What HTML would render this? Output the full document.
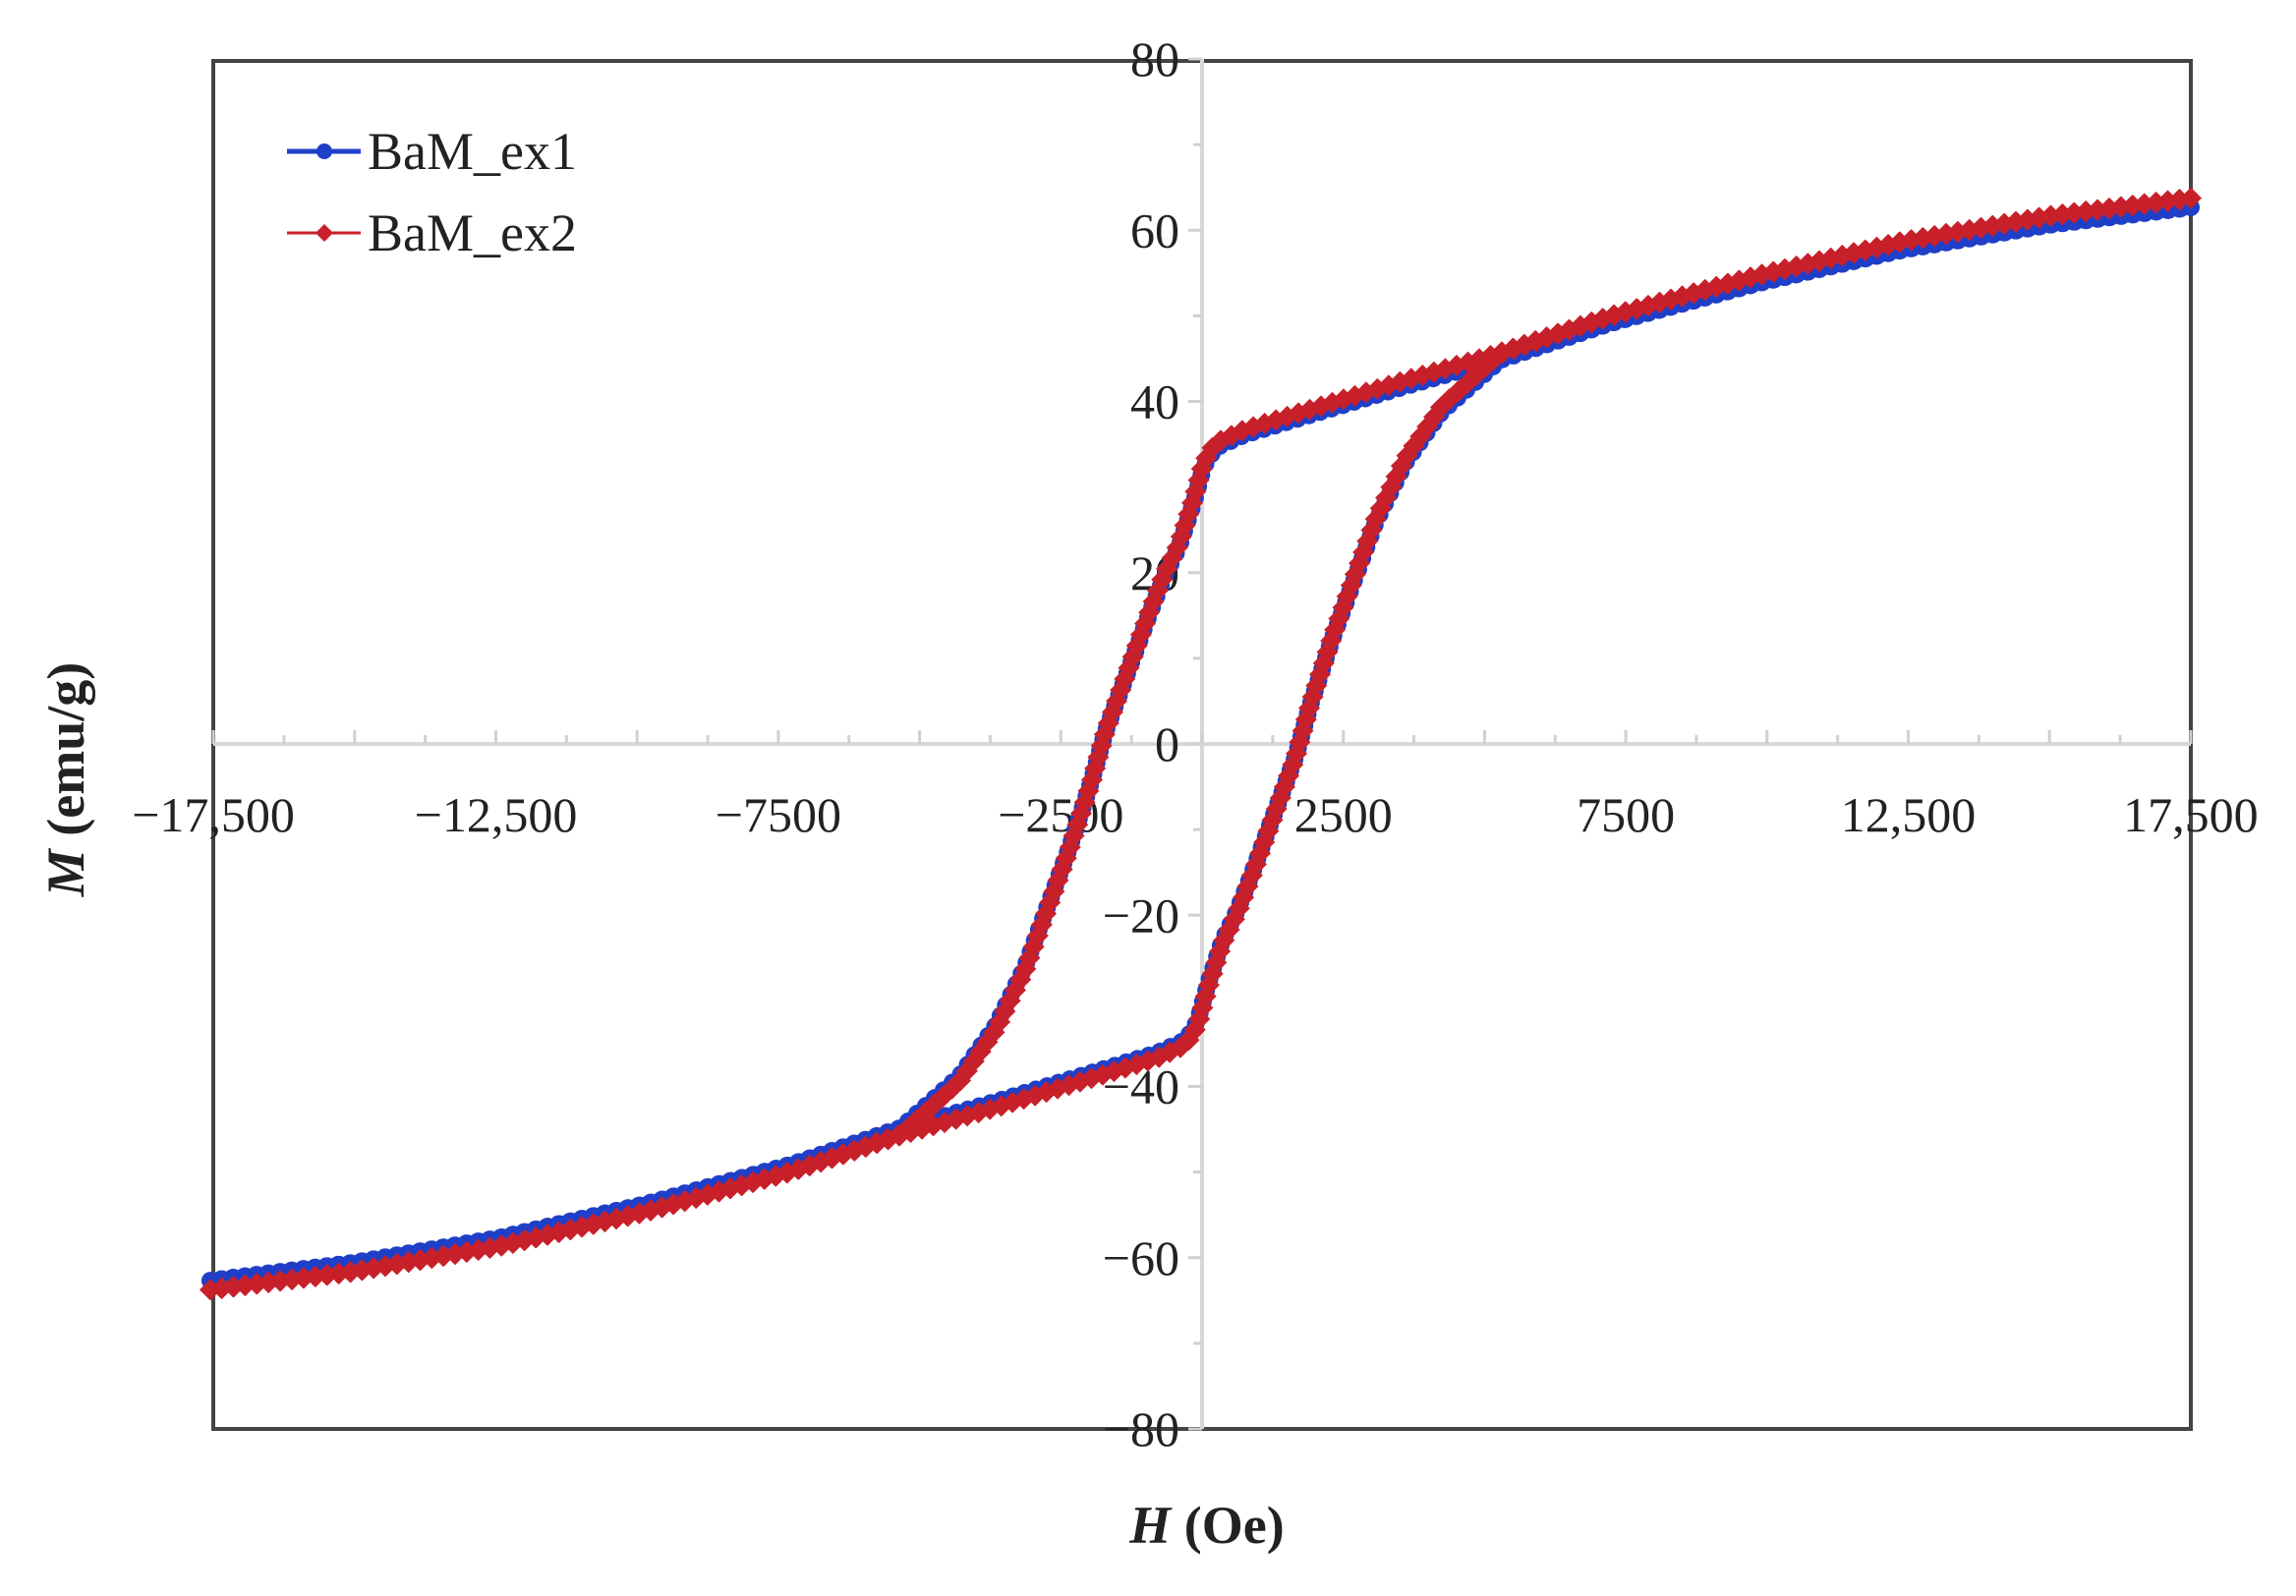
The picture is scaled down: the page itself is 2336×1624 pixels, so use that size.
<!DOCTYPE html>
<html><head><meta charset="utf-8"><style>
html,body{margin:0;padding:0;background:#fff;}
svg{display:block;}
text{font-family:"Liberation Serif",serif;fill:#222;}
</style></head><body>
<svg id="s" width="2336" height="1624" viewBox="0 0 2336 1624" xmlns="http://www.w3.org/2000/svg">
<rect x="217" y="62" width="2012" height="1392" fill="none" stroke="#444" stroke-width="4"/>
<g id="axes"></g>
<g id="data"></g>
<line x1="292" y1="154" x2="367" y2="154" stroke="#1f3fc8" stroke-width="5"/>
<circle cx="330" cy="154" r="8" fill="#1f3fc8"/>
<text x="374" y="172" font-size="54">BaM_ex1</text>
<line x1="292" y1="237" x2="367" y2="237" stroke="#c8202a" stroke-width="3"/>
<polygon points="330,228 339,237 330,246 321,237" fill="#c8202a"/>
<text x="374" y="255" font-size="54">BaM_ex2</text>
<text x="1228" y="1570" font-size="54" font-weight="bold" text-anchor="middle"><tspan font-style="italic">H</tspan> (Oe)</text>
<text transform="translate(85,793) rotate(-90)" font-size="54" font-weight="bold" text-anchor="middle"><tspan font-style="italic">M</tspan> (emu/g)</text>
</svg>
<script>
var NS="http://www.w3.org/2000/svg";
function el(t,a,p){var e=document.createElementNS(NS,t);for(var k in a)e.setAttribute(k,a[k]);(p||document.getElementById('axes')).appendChild(e);return e;}
var X0=1223,Y0=757,px=143.7/2500,py=174.25/20;
el('line',{x1:217,y1:Y0,x2:2229,y2:Y0,stroke:'#d8d8d8','stroke-width':4});
el('line',{x1:X0,y1:60,x2:X0,y2:1454,stroke:'#d8d8d8','stroke-width':4});
for(var h=-17500;h<=17500;h+=1250){var x=X0+h*px;el('line',{x1:x,y1:Y0-(h%2500==0?14:9),x2:x,y2:Y0,stroke:'#d0d0d0','stroke-width':3});}
for(var m=-80;m<=80;m+=10){var y=Y0-m*py;el('line',{x1:X0-(m%20==0?14:9),y1:y,x2:X0,y2:y,stroke:'#d0d0d0','stroke-width':3});}
var xl=[[-17500,"−17,500"],[-12500,"−12,500"],[-7500,"−7500"],[-2500,"−2500"],[2500,"2500"],[7500,"7500"],[12500,"12,500"],[17500,"17,500"]];
xl.forEach(function(l){var t=el('text',{x:X0+l[0]*px,y:846,'font-size':50,'text-anchor':'middle'});t.textContent=l[1];});
for(var m=-80;m<=80;m+=20){var t=el('text',{x:1200,y:Y0-m*py+17,'font-size':50,'text-anchor':'end'});t.textContent=(m<0?"−":"")+Math.abs(m);}
var U=[[1497,143],[1400,155],[1300,172],[1200,195],[1100,222],[1020,248],[960,265],[900,283],[850,298],[830,307],[822,320],[815,345],[805,375],[795,395],[785,420],[770,460],[755,500],[745,535],[730,580],[715,620],[700,660],[680,700],[655,735],[615,770]];
var tail=[[1100,222],[1200,195],[1300,172],[1400,155],[1497,143]].map(function(p){return[1640-p[0],1017-p[1]];});
var up=U.concat(tail);
function toA(p){return[217+(p[0]-145)*1.4882,60+(p[1]-42)*1.494];}
up=up.map(toA);
var cx=2*1221.5,cy=2*757;
var low=up.map(function(p){return[cx-p[0],cy-p[1]];});
function resample(pts,step){var out=[pts[0]],acc=0;for(var i=1;i<pts.length;i++){var a=pts[i-1],b=pts[i],dx=b[0]-a[0],dy=b[1]-a[1],L=Math.hypot(dx,dy),d=step-acc;while(d<=L){out.push([a[0]+dx*d/L,a[1]+dy*d/L]);d+=step;}acc=L-(d-step);}return out;}
var dg=document.getElementById('data');
function series(pts,col,sw,marker,f){
  var q=pts.map(function(p){return[p[0],Y0+(p[1]-Y0)*f];});
  el('polyline',{points:q.map(function(p){return p.join(',')}).join(' '),fill:'none',stroke:col,'stroke-width':sw},dg);
  resample(q,12).forEach(function(p){
    if(marker=='c')el('circle',{cx:p[0],cy:p[1],r:9,fill:col},dg);
    else el('polygon',{points:(p[0])+','+(p[1]-11)+' '+(p[0]+11)+','+p[1]+' '+p[0]+','+(p[1]+11)+' '+(p[0]-11)+','+p[1],fill:col},dg);
  });
}
series(up,'#1f3fc8',4,'c',1);series(low,'#1f3fc8',4,'c',1);
series(up,'#c8202a',3,'d',1.017);series(low,'#c8202a',3,'d',1.017);
</script>
</body></html>
